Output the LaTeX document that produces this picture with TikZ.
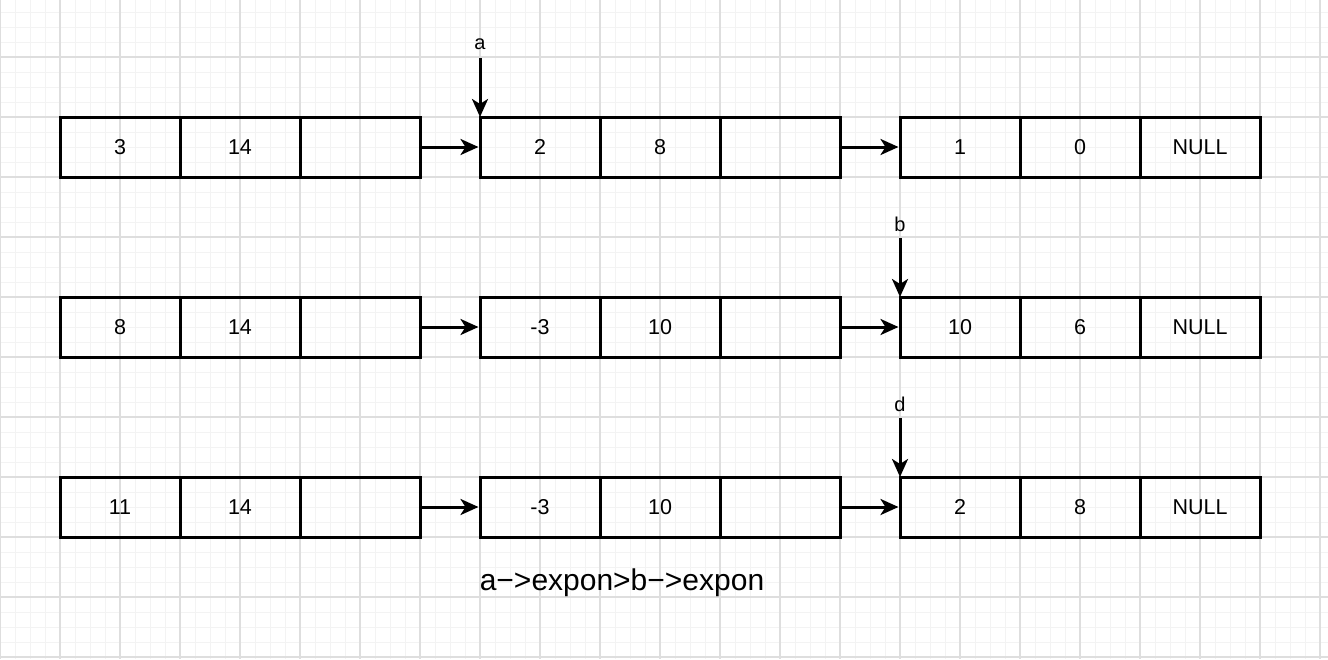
\documentclass[tikz,border=0pt]{standalone}
\usepackage{fontspec}
\setmainfont{Liberation Sans}
\usetikzlibrary{arrows.meta}
\definecolor{minorg}{HTML}{F3F3F3}
\definecolor{majorg}{HTML}{DEDEDE}
\tikzset{
  cellbox/.style={draw=black, line width=3pt, minimum width=120pt, minimum height=60pt, inner sep=0pt, font=\fontsize{21.5}{24}\selectfont},
  linkarrow/.style={line width=3pt, -{Stealth[length=18pt, width=16pt, inset=5pt]}},
  ptrlabel/.style={inner sep=0pt, font=\fontsize{20}{23}\selectfont},
}
\begin{document}
\begin{tikzpicture}[x=1pt,y=-1pt]
\useasboundingbox (0,0) rectangle (1328,659);
\fill[white] (0,0) rectangle (1328,659);
% minor grid
\foreach \x in {15,30,...,1320} {\draw[minorg, line width=1pt] (\x,0) -- (\x,659);}
\foreach \y in {12,27,...,657} {\draw[minorg, line width=1pt] (0,\y) -- (1328,\y);}
% major grid
\foreach \x in {0,60,...,1320} {\draw[majorg, line width=1.1pt] (\x,0) -- (\x,659);}
\foreach \y in {57,117,...,657} {\draw[majorg, line width=1.1pt] (0,\y) -- (1328,\y);}

% row 1
\node[cellbox] (r1c1) at (120,147) {3};
\node[cellbox] (r1c2) at (240,147) {14};
\node[cellbox] (r1c3) at (360,147) {};
\node[cellbox] (r1c4) at (540,147) {2};
\node[cellbox] (r1c5) at (660,147) {8};
\node[cellbox] (r1c6) at (780,147) {};
\node[cellbox] (r1c7) at (960,147) {1};
\node[cellbox] (r1c8) at (1080,147) {0};
\node[cellbox] (r1c9) at (1200,147) {NULL};
% row 2
\node[cellbox] (r2c1) at (120,327) {8};
\node[cellbox] (r2c2) at (240,327) {14};
\node[cellbox] (r2c3) at (360,327) {};
\node[cellbox] (r2c4) at (540,327) {-3};
\node[cellbox] (r2c5) at (660,327) {10};
\node[cellbox] (r2c6) at (780,327) {};
\node[cellbox] (r2c7) at (960,327) {10};
\node[cellbox] (r2c8) at (1080,327) {6};
\node[cellbox] (r2c9) at (1200,327) {NULL};
% row 3
\node[cellbox] (r3c1) at (120,507) {11};
\node[cellbox] (r3c2) at (240,507) {14};
\node[cellbox] (r3c3) at (360,507) {};
\node[cellbox] (r3c4) at (540,507) {-3};
\node[cellbox] (r3c5) at (660,507) {10};
\node[cellbox] (r3c6) at (780,507) {};
\node[cellbox] (r3c7) at (960,507) {2};
\node[cellbox] (r3c8) at (1080,507) {8};
\node[cellbox] (r3c9) at (1200,507) {NULL};

% links
\draw[linkarrow] (r1c3.east) -- (r1c4.west);
\draw[linkarrow] (r1c6.east) -- (r1c7.west);
\draw[linkarrow] (r2c3.east) -- (r2c4.west);
\draw[linkarrow] (r2c6.east) -- (r2c7.west);
\draw[linkarrow] (r3c3.east) -- (r3c4.west);
\draw[linkarrow] (r3c6.east) -- (r3c7.west);

% pointers
\node[ptrlabel] (pa) at (480,44) {a};
\node[ptrlabel] (pb) at (900,224) {b};
\node[ptrlabel] (pd) at (900,404) {d};
\coordinate (ta) at (480,117);
\coordinate (tb) at (900,297);
\coordinate (td) at (900,477);
\draw[linkarrow] (480,58) -- (ta);
\draw[linkarrow] (900,238) -- (tb);
\draw[linkarrow] (900,418) -- (td);

% caption
\node[inner sep=0pt, font=\fontsize{30}{35}\selectfont] (cap) at (622,583) {a−>expon>b−>expon};
\end{tikzpicture}
\end{document}
